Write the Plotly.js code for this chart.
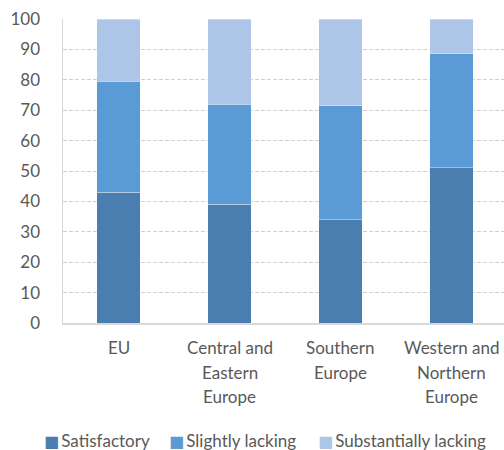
<!DOCTYPE html>
<html>
<head>
<meta charset="utf-8">
<script src="https://cdn.plot.ly/plotly-3.0.1.min.js"></script>
<style>
  html, body { margin: 0; padding: 0; overflow: hidden; background: #fff; }
  #chart { width: 507px; height: 450px; }
</style>
</head>
<body>
<div id="chart"></div>
<script>
// Regions shown on the x axis (each label line separated by <br>)
const categories = ['EU', 'Central and<br>Eastern<br>Europe', 'Southern<br>Europe', 'Western and<br>Northern<br>Europe'];

// Share of respondents (%) per assessment level
const satisfactory = [43, 39, 34, 51];
const slightlyLacking = [36.5, 33, 37.5, 37.5];
const substantiallyLacking = [20.5, 28, 28.5, 11.5];

const seriesNames = ['Satisfactory', 'Slightly lacking', 'Substantially lacking'];
const seriesColors = ['#4a7eb0', '#5b9bd5', '#adc5e6'];
const seriesValues = [satisfactory, slightlyLacking, substantiallyLacking];

const textColor = '#595959';
const fontFamily = 'Lato, "Open Sans", sans-serif';
const fontSize = 17;

const traces = seriesValues.map((vals, i) => ({
  type: 'bar',
  name: seriesNames[i],
  x: categories,
  y: vals,
  marker: { color: seriesColors[i], line: { color: 'rgba(255,255,255,0.35)', width: 1 } },
  hoverinfo: 'x+y+name'
}));

const annotations = [];

// Multi-line category labels, one annotation per line for wider line spacing
categories.forEach(cat => {
  cat.split('<br>').forEach((line, j) => {
    annotations.push({
      x: cat, xref: 'x',
      y: 0, yref: 'paper',
      yanchor: 'middle',
      yshift: -(24.5 + j * 24.5),
      text: line,
      showarrow: false,
      font: { family: fontFamily, size: fontSize, color: textColor }
    });
  });
});

// Compact legend row below the chart: colour square followed by the series name
const legendX = [-0.047, 0.234, 0.57];
seriesNames.forEach((name, i) => {
  annotations.push({
    x: legendX[i], xref: 'paper', xanchor: 'left',
    y: -0.387, yref: 'paper', yanchor: 'middle',
    text: '<span style="color:' + seriesColors[i] + ';font-family:DejaVu Sans;font-size:16px;">■</span>\u2009' + name,
    showarrow: false,
    font: { family: fontFamily, size: fontSize, color: textColor }
  });
});

const layout = {
  width: 507,
  height: 450,
  margin: { l: 63, r: 0, t: 19, b: 127 },
  barmode: 'stack',
  bargap: 0.61,
  paper_bgcolor: '#fff',
  plot_bgcolor: '#fff',
  font: { family: fontFamily, color: textColor, size: fontSize },
  showlegend: false,
  xaxis: {
    type: 'category',
    range: [-0.5, 3.5],
    showticklabels: false,
    ticks: '',
    showgrid: false,
    showline: true,
    linecolor: '#d9d9d9',
    linewidth: 2,
    zeroline: false,
    fixedrange: true
  },
  yaxis: {
    range: [0, 100],
    dtick: 10,
    tick0: 0,
    ticks: '',
    ticklabelstandoff: 18,
    tickfont: { family: fontFamily, size: fontSize, color: textColor },
    showgrid: true,
    gridcolor: '#d0d0d0',
    griddash: '4px,2px',
    gridwidth: 1,
    showline: true,
    linecolor: '#d9d9d9',
    linewidth: 1.5,
    mirror: true,
    zeroline: false,
    fixedrange: true
  },
  annotations: annotations
};

Plotly.newPlot('chart', traces, layout, { displayModeBar: false, staticPlot: true });
</script>
</body>
</html>
